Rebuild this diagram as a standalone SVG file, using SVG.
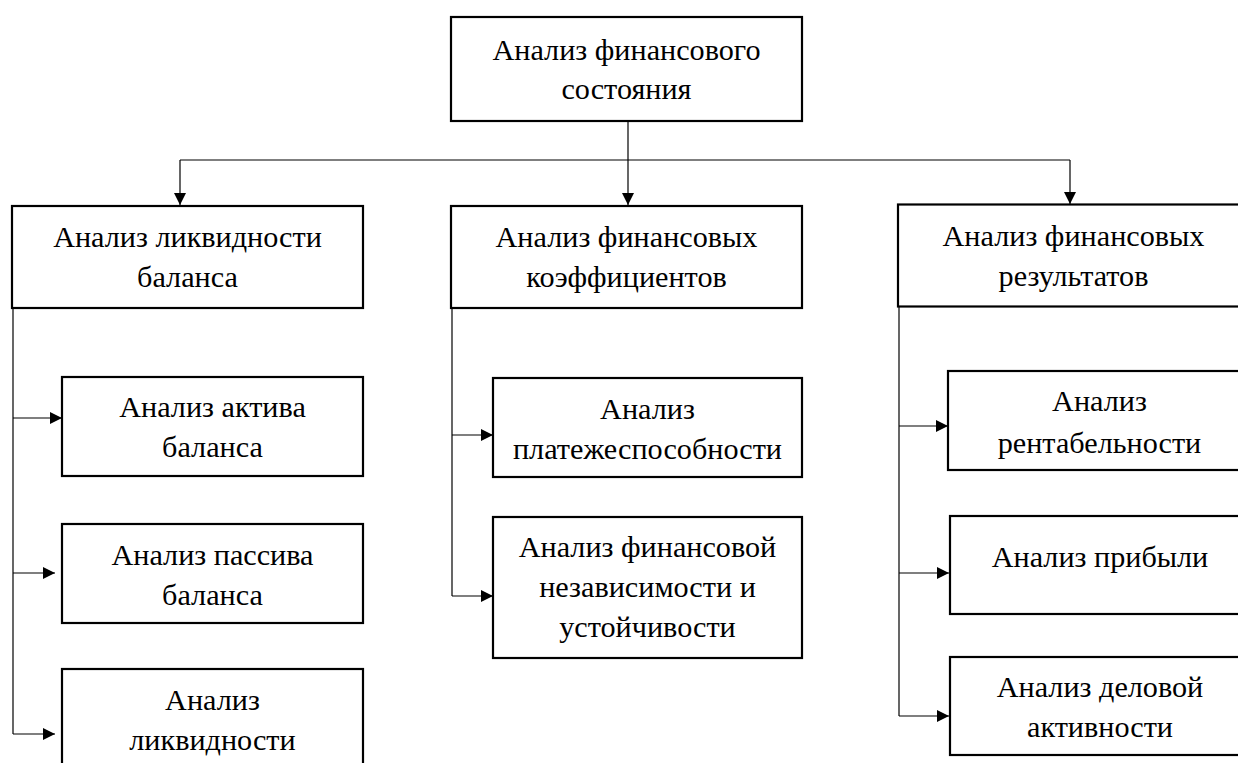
<svg xmlns="http://www.w3.org/2000/svg" width="1238" height="763" viewBox="0 0 1238 763">
<style>
.box{fill:#fff;stroke:#000;stroke-width:2.2}
.t{font-family:"Liberation Serif","Times New Roman",serif;font-size:30.2px;fill:#000;text-anchor:middle}
.c{fill:none;stroke:#000;stroke-width:1.2}
.a{marker-end:url(#ah)}
</style>
<defs>
<marker id="ah" markerUnits="userSpaceOnUse" markerWidth="12" markerHeight="12" refX="12" refY="6" orient="auto">
<path d="M0,0 L12,6 L0,12 z" fill="#000"/>
</marker>
</defs>
<rect width="1238" height="763" fill="#fff"/>
<g id="connectors">
<path class="c" d="M180,160 H1070"/>
<path class="c a" d="M628,121 V205"/>
<path class="c a" d="M180,160 V205"/>
<path class="c a" d="M1070,160 V204"/>
<path class="c" d="M13,308 V734"/>
<path class="c a" d="M13,418 H62"/>
<path class="c a" d="M13,573 H55"/>
<path class="c a" d="M13,734 H55"/>
<path class="c" d="M452,308 V596"/>
<path class="c a" d="M452,435 H493"/>
<path class="c a" d="M452,596 H493"/>
<path class="c" d="M899,307 V716"/>
<path class="c a" d="M899,426 H948"/>
<path class="c a" d="M899,573 H949"/>
<path class="c a" d="M899,716 H949"/>
</g>
<g id="n-top">
<rect class="box" x="451" y="17" width="351" height="104"/>
<text class="t" x="626.5" y="60">Анализ финансового</text>
<text class="t" x="626.5" y="99">состояния</text>
</g>
<g id="n-liq">
<rect class="box" x="12" y="206" width="351" height="102"/>
<text class="t" x="187.5" y="247">Анализ ликвидности</text>
<text class="t" x="187.5" y="287">баланса</text>
</g>
<g id="n-coef">
<rect class="box" x="451" y="206" width="351" height="102"/>
<text class="t" x="626.5" y="247">Анализ финансовых</text>
<text class="t" x="626.5" y="287">коэффициентов</text>
</g>
<g id="n-res">
<rect class="box" x="898" y="204.5" width="351" height="102"/>
<text class="t" x="1073.5" y="246">Анализ финансовых</text>
<text class="t" x="1073.5" y="286">результатов</text>
</g>
<g id="n-act">
<rect class="box" x="62" y="377" width="301" height="99"/>
<text class="t" x="212.5" y="417">Анализ актива</text>
<text class="t" x="212.5" y="457">баланса</text>
</g>
<g id="n-pas">
<rect class="box" x="62" y="524" width="301" height="99"/>
<text class="t" x="212.5" y="565">Анализ пассива</text>
<text class="t" x="212.5" y="605">баланса</text>
</g>
<g id="n-liq2">
<rect class="box" x="62" y="669" width="301" height="110"/>
<text class="t" x="212.5" y="710">Анализ</text>
<text class="t" x="212.5" y="750">ликвидности</text>
</g>
<g id="n-pay">
<rect class="box" x="493" y="378" width="309" height="99"/>
<text class="t" x="647.5" y="419">Анализ</text>
<text class="t" x="647.5" y="459">платежеспособности</text>
</g>
<g id="n-ind">
<rect class="box" x="493" y="517" width="309" height="141"/>
<text class="t" x="647.5" y="557">Анализ финансовой</text>
<text class="t" x="647.5" y="597">независимости и</text>
<text class="t" x="647.5" y="637">устойчивости</text>
</g>
<g id="n-rent">
<rect class="box" x="948" y="371" width="303" height="99"/>
<text class="t" x="1099.5" y="411">Анализ</text>
<text class="t" x="1099.5" y="453">рентабельности</text>
</g>
<g id="n-prof">
<rect class="box" x="950" y="516" width="303" height="98"/>
<text class="t" x="1100" y="567">Анализ прибыли</text>
</g>
<g id="n-bus">
<rect class="box" x="950" y="657" width="303" height="98"/>
<text class="t" x="1100" y="697">Анализ деловой</text>
<text class="t" x="1100" y="737">активности</text>
</g>
</svg>
